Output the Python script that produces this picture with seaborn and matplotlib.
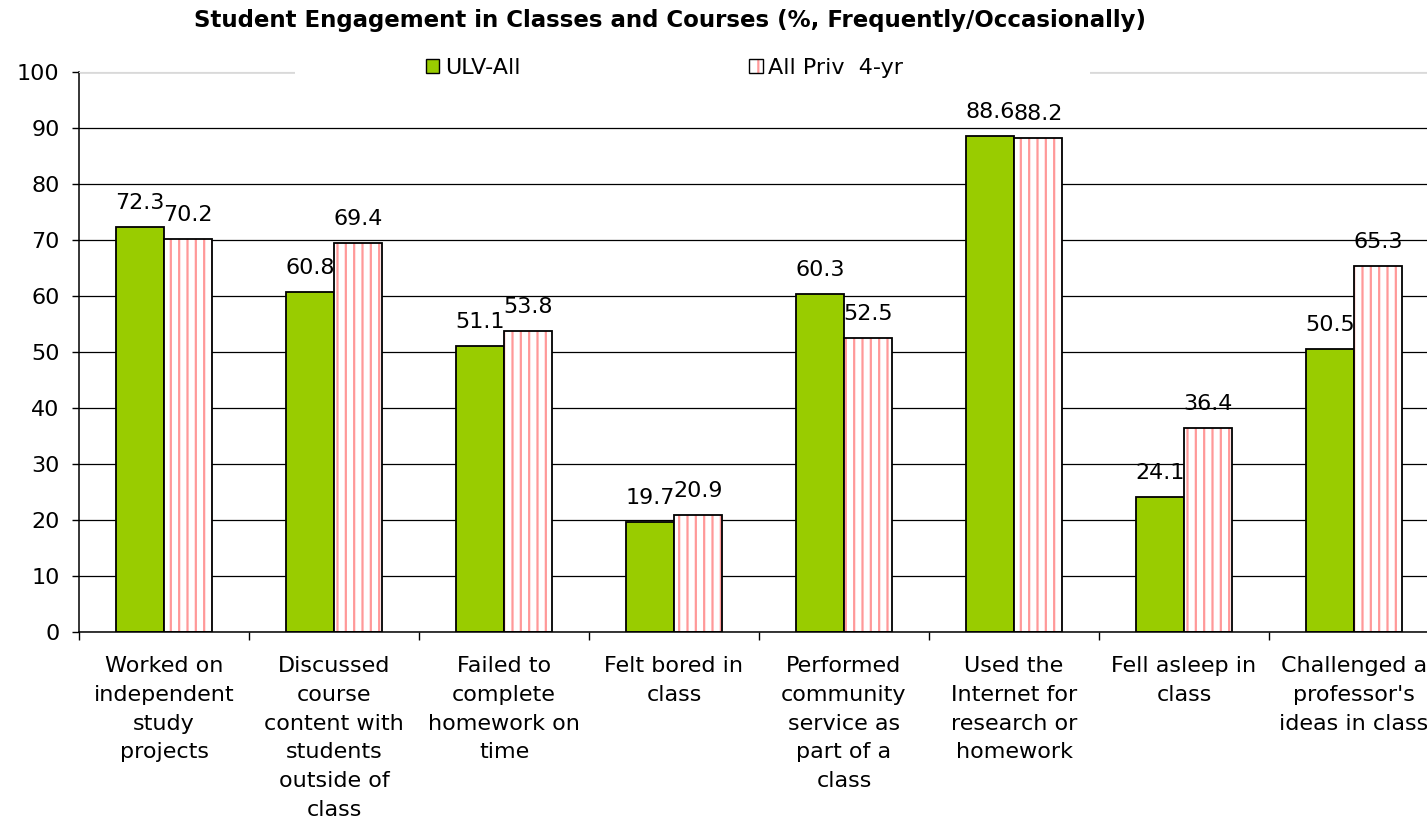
import pandas as pd
import matplotlib.pyplot as plt
import seaborn as sns
from matplotlib.colors import to_rgba
from matplotlib.patches import Patch, Rectangle
from matplotlib.ticker import FixedLocator

# Data
categories = [
    "Worked on\nindependent\nstudy\nprojects",
    "Discussed\ncourse\ncontent with\nstudents\noutside of\nclass",
    "Failed to\ncomplete\nhomework on\ntime",
    "Felt bored in\nclass",
    "Performed\ncommunity\nservice as\npart of a\nclass",
    "Used the\nInternet for\nresearch or\nhomework",
    "Fell asleep in\nclass",
    "Challenged a\nprofessor's\nideas in class",
]
ulv_all = [72.3, 60.8, 51.1, 19.7, 60.3, 88.6, 24.1, 50.5]
priv_4yr = [70.2, 69.4, 53.8, 20.9, 52.5, 88.2, 36.4, 65.3]
series = ["ULV-All", "All Priv  4-yr"]

GREEN = "#99CC00"
PINK = "#FF9999"
W, H = 1427, 819


def main():
    df = pd.DataFrame({
        "category": categories * 2,
        "value": ulv_all + priv_4yr,
        "series": [series[0]] * len(categories) + [series[1]] * len(categories),
    })

    sns.set_style("white")
    plt.rcParams["font.family"] = ["DejaVu Sans"]
    plt.rcParams["text.color"] = "black"
    plt.rcParams["xtick.color"] = "black"
    plt.rcParams["ytick.color"] = "black"
    plt.rcParams["hatch.linewidth"] = 1.6

    fig = plt.figure(figsize=(W / 100, H / 100), dpi=100)
    ax = fig.add_axes([79 / W, 187 / H, 1360 / W, 560 / H])

    sns.barplot(data=df, x="category", y="value", hue="series",
                palette=[GREEN, "white"], width=0.57, ax=ax,
                edgecolor="black", linewidth=1.3, saturation=1, legend=False)

    # pink vertical stripes on the second series
    for p in ax.containers[1]:
        p.set_hatch("||")
        p._hatch_color = to_rgba(PINK)

    for cont in ax.containers:
        ax.bar_label(cont, fmt="%.1f", fontsize=16, padding=10, color="black")

    ax.set_ylim(0, 100)
    ax.set_xlim(-0.5, len(categories) - 0.5)
    ax.set_yticks(range(0, 101, 10))
    ax.yaxis.grid(True, color="black", linewidth=0.9)
    ax.set_axisbelow(True)
    ax.tick_params(axis="y", labelsize=16, length=5, width=1, colors="black",
                   direction="out", left=True, pad=9)
    ax.tick_params(axis="x", which="major", length=0, labelsize=16, pad=17,
                   labelcolor="black")
    ax.xaxis.set_minor_locator(FixedLocator([i - 0.5 for i in range(len(categories) + 1)]))
    ax.tick_params(axis="x", which="minor", length=6, width=1, color="black",
                   direction="out", bottom=True)
    ax.set_xlabel("")
    ax.set_ylabel("")
    for lbl in ax.get_xticklabels():
        lbl.set_linespacing(1.56)

    for s in ["left", "bottom"]:
        ax.spines[s].set_color("black")
        ax.spines[s].set_linewidth(1.1)
    ax.spines["top"].set_color("#d9d9d9")
    ax.spines["right"].set_visible(False)

    # white legend area that hides the top line
    fig.patches.append(Rectangle((295 / W, 1 - 82 / H), 795 / W, 26 / H,
                                 transform=fig.transFigure, facecolor="white",
                                 edgecolor="none", zorder=5))
    handles = [
        Patch(facecolor=GREEN, edgecolor="black", linewidth=1),
        Patch(facecolor="white", edgecolor="black", linewidth=1),
    ]
    leg = fig.legend(handles, series, loc="center left",
                     bbox_to_anchor=(426 / W, 1 - 68 / H),
                     ncol=2, fontsize=16, frameon=False,
                     columnspacing=10.3, handlelength=0.6, handleheight=0.6,
                     handletextpad=0.25, borderpad=0, borderaxespad=0)
    leg.set_zorder(10)
    h2 = leg.legend_handles[1]
    h2.set_hatch("|")
    h2._hatch_color = to_rgba(PINK)

    fig.text(670 / W, 1 - 20 / H,
             "Student Engagement in Classes and Courses (%, Frequently/Occasionally)",
             ha="center", va="center", fontsize=16.5, fontweight="bold")

    fig.savefig("out.png", dpi=100)
    plt.close(fig)


if __name__ == "__main__":
    main()
